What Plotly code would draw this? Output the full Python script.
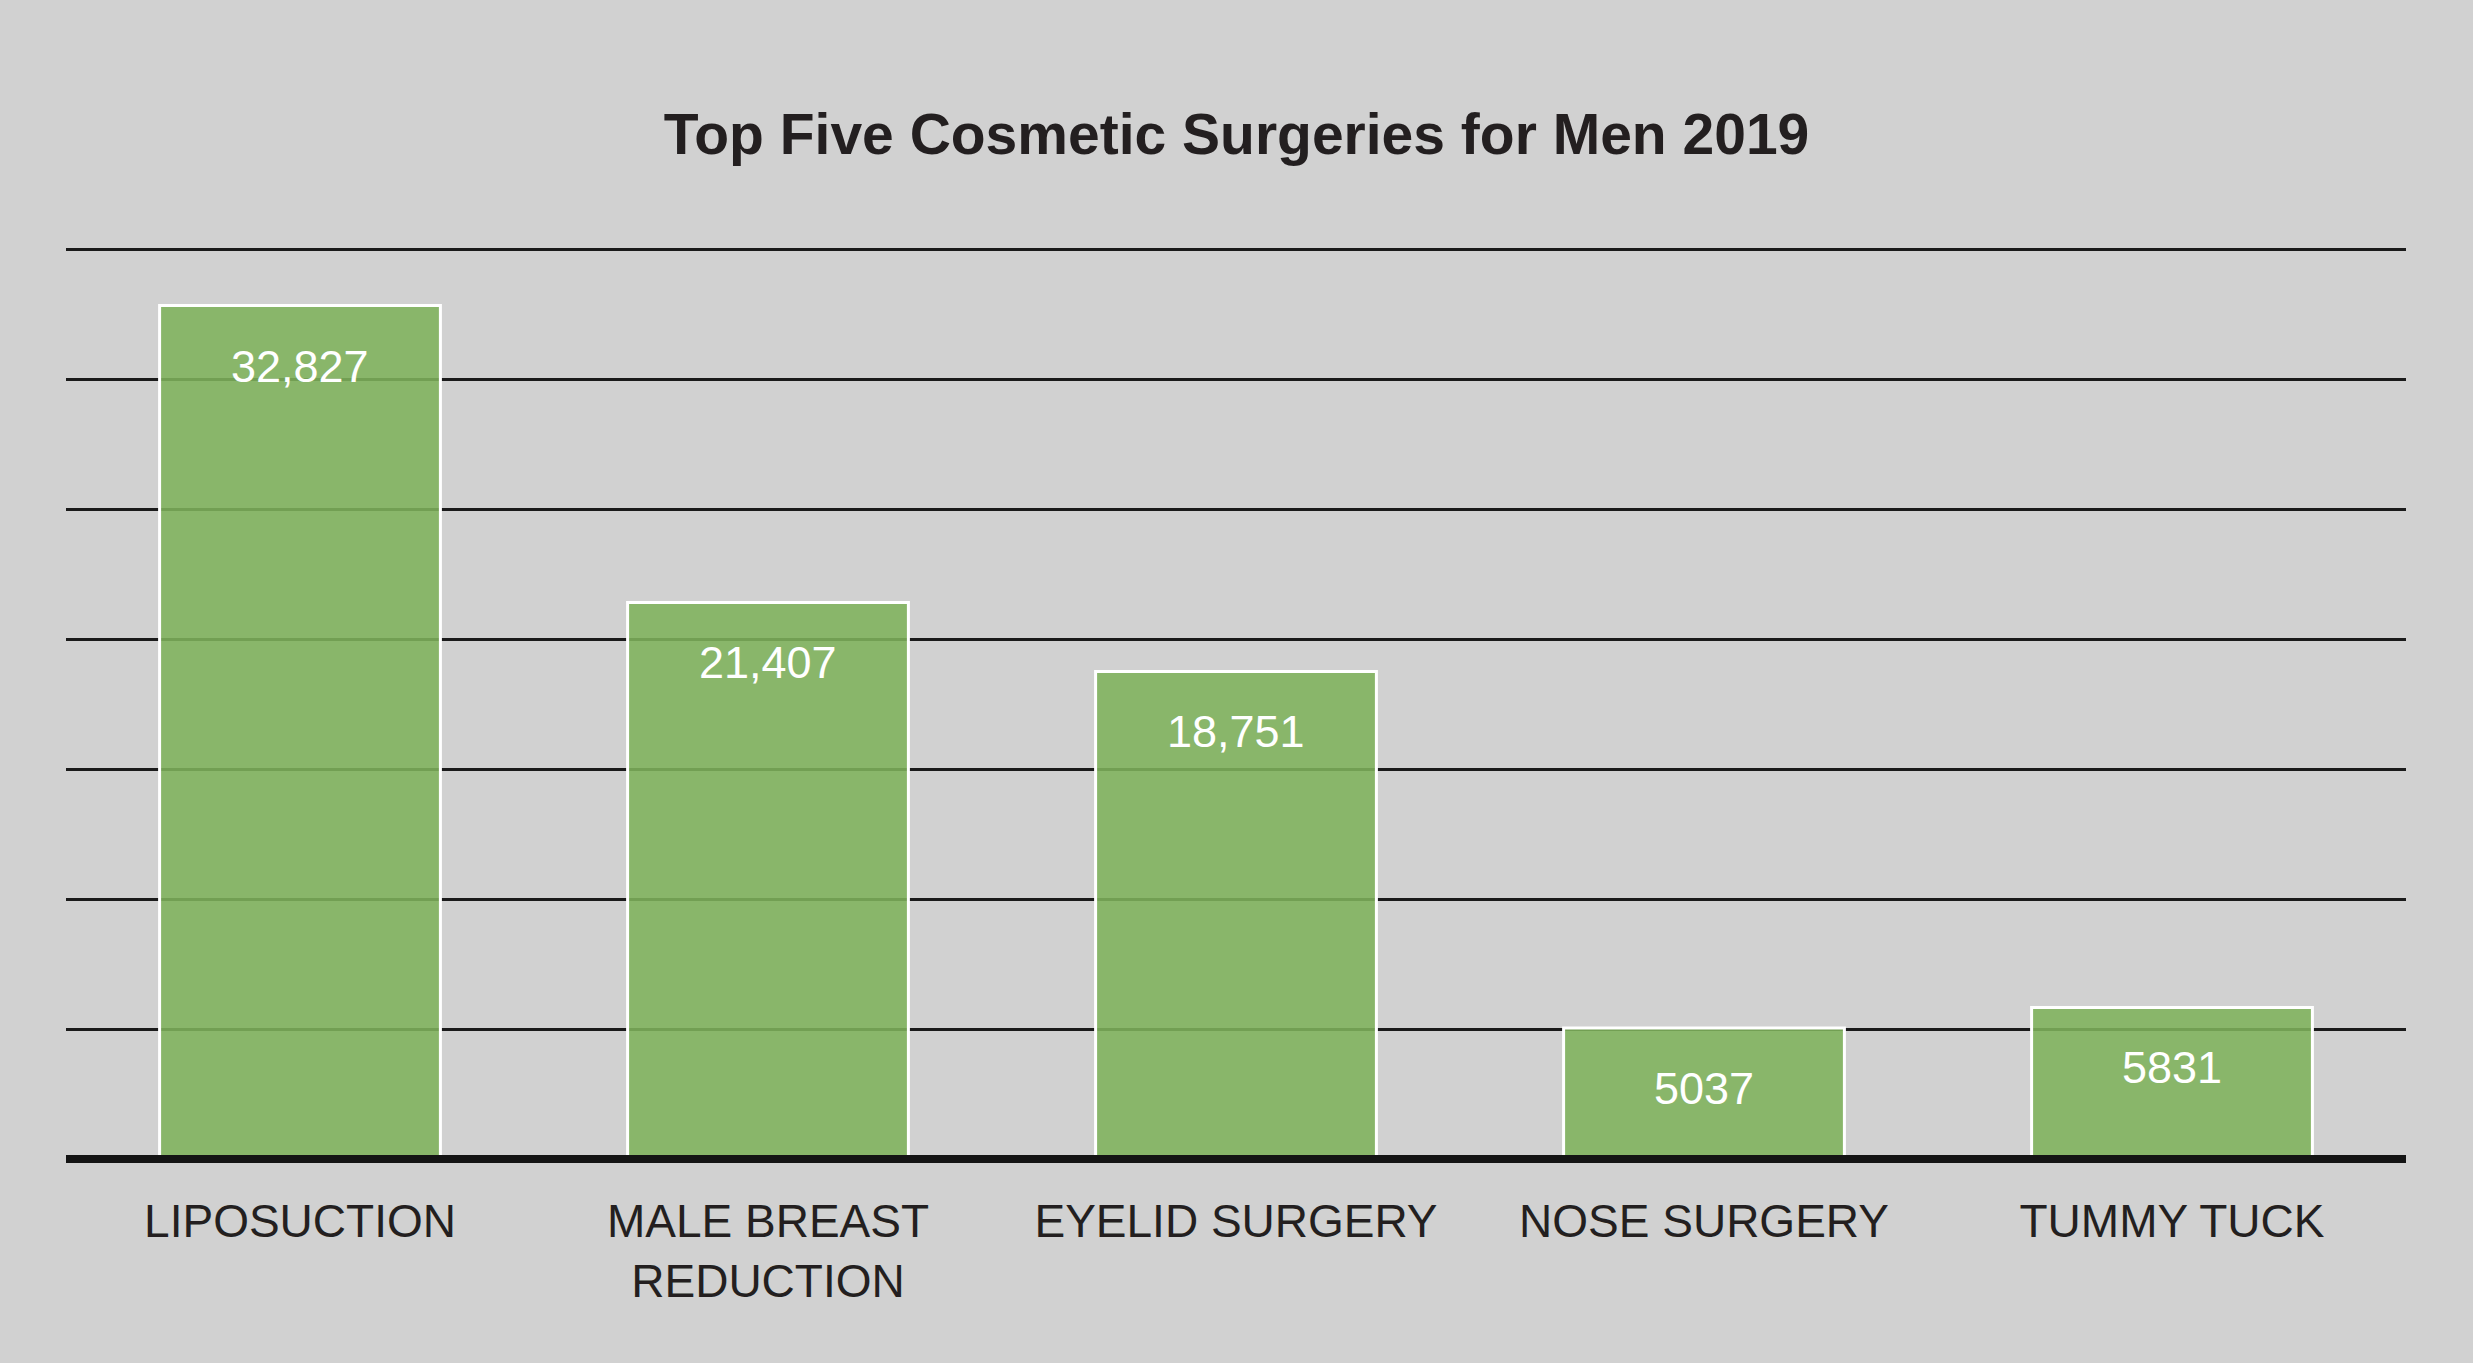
import plotly.graph_objects as go

categories = ["LIPOSUCTION", "MALE BREAST<br>REDUCTION", "EYELID SURGERY", "NOSE SURGERY", "TUMMY TUCK"]
values = [32827, 21407, 18751, 5037, 5831]
value_labels = ["32,827", "21,407", "18,751", "5037", "5831"]
title_text = "Top Five Cosmetic Surgeries for Men 2019"

FONT = "Liberation Sans, Arial, sans-serif"
BG = "#d1d1d1"

fig = go.Figure()
fig.add_trace(go.Bar(
    x=categories,
    y=values,
    marker=dict(color="rgba(126,178,91,0.88)", line=dict(color="white", width=3)),
    hoverinfo="skip",
))

for c, v, t in zip(categories, values, value_labels):
    fig.add_annotation(
        x=c, y=v, text=t, showarrow=False, yanchor="top", yshift=-33,
        font=dict(family=FONT, size=45, color="white"),
    )

# thick baseline along the bottom of the plot area (not clipped)
fig.add_shape(type="line", xref="paper", yref="paper", x0=0, x1=1, y0=0, y1=0,
              line=dict(color="#141414", width=8), layer="above")

fig.update_layout(
    width=2473, height=1363,
    paper_bgcolor=BG, plot_bgcolor=BG,
    margin=dict(l=66, r=67, t=236, b=204),
    bargap=0.4,
    showlegend=False,
    title=dict(text="<b>" + title_text + "</b>", x=0.5, xanchor="center",
               y=1 - 134 / 1363, yref="container", yanchor="middle",
               font=dict(family=FONT, size=57, color="#231f20")),
    xaxis=dict(showgrid=False, showline=False, zeroline=False, ticks="",
               ticklabelstandoff=31,
               tickfont=dict(family=FONT, size=46, color="#231f20")),
    yaxis=dict(range=[0, 35500], dtick=5000, tick0=0, showgrid=True,
               gridcolor="#1a1a1a", gridwidth=3, zeroline=False,
               showticklabels=False, ticks="", showline=False),
)

fig.write_html("out.html", config={"displayModeBar": False},
               post_script="document.body.style.margin='0';document.body.style.overflow='hidden';")
